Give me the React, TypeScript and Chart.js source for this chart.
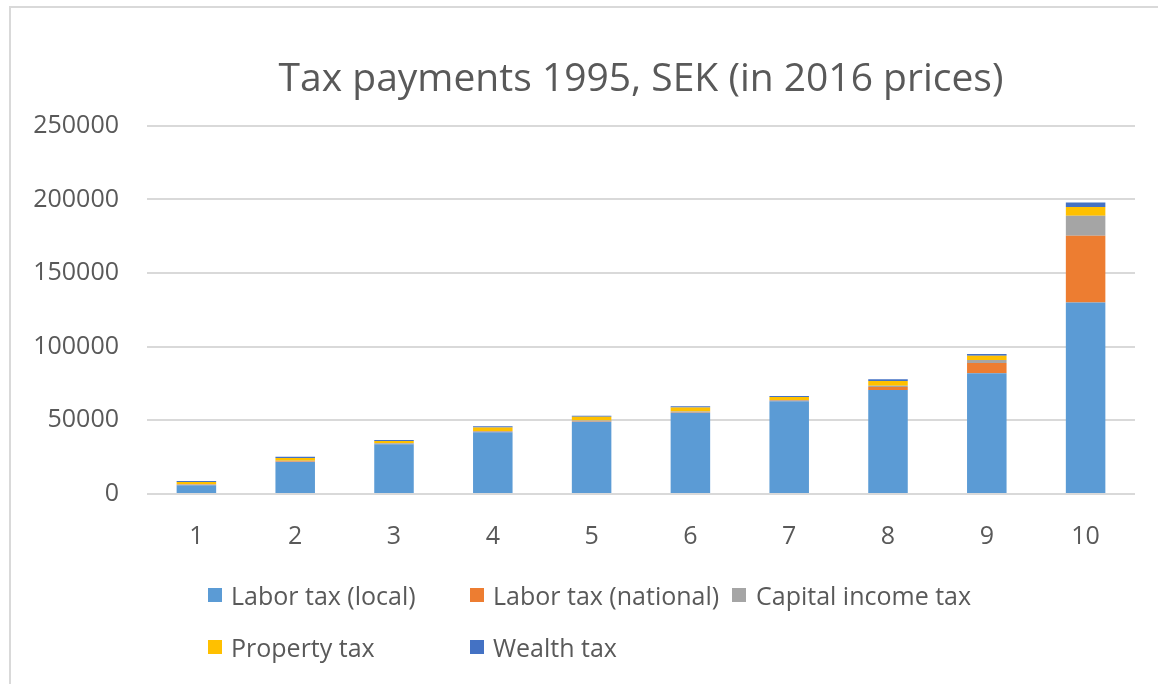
import { useEffect, useRef } from "react";
import { Chart, registerables } from "chart.js";

Chart.register(...registerables);

const titleText = "Tax payments 1995, SEK (in 2016 prices)";
const categories = ["1", "2", "3", "4", "5", "6", "7", "8", "9", "10"];
const laborLocal = [5900, 21700, 33800, 41900, 49100, 55200, 63000, 70600, 82000, 130000];
const laborNational = [300, 300, 200, 300, 300, 300, 300, 2000, 7000, 45300];
const capitalIncome = [500, 500, 400, 600, 500, 600, 500, 900, 2000, 13600];
const propertyTax = [1400, 2000, 1600, 2400, 2500, 2700, 2000, 3200, 2900, 5900];
const wealthTax = [700, 800, 700, 800, 800, 800, 800, 1200, 1100, 3100];
const seriesNames = [
  "Labor tax (local)",
  "Labor tax (national)",
  "Capital income tax",
  "Property tax",
  "Wealth tax",
];
const seriesColors = ["#5B9BD5", "#ED7D31", "#A5A5A5", "#FFC000", "#4472C4"];
const yMin = 0;
const yMax = 250000;
const yStep = 50000;

const FONT = "'Open Sans', 'DejaVu Sans', sans-serif";
const TEXT = "#595959";

// legend grid placement (row, column)
const legendCells = [
  { left: 208, textLeft: 231, top: 580 },
  { left: 470, textLeft: 493, top: 580 },
  { left: 732, textLeft: 756, top: 580 },
  { left: 208, textLeft: 231, top: 632 },
  { left: 470, textLeft: 493, top: 632 },
];

export default function App() {
  const ref = useRef<HTMLCanvasElement>(null);

  useEffect(() => {
    const allSeries = [laborLocal, laborNational, capitalIncome, propertyTax, wealthTax];
    const chart = new Chart(ref.current as HTMLCanvasElement, {
      type: "bar",
      data: {
        labels: categories,
        datasets: allSeries.map((d, i) => ({
          label: seriesNames[i],
          data: d,
          backgroundColor: seriesColors[i],
          borderWidth: 0,
          barPercentage: 0.4,
          categoryPercentage: 1,
        })),
      },
      options: {
        responsive: false,
        animation: false,
        devicePixelRatio: 1,
        layout: { padding: { left: 0, right: 23, top: 0, bottom: 130 } },
        plugins: {
          legend: { display: false },
          tooltip: { enabled: false },
          title: {
            display: true,
            fullSize: false,
            text: titleText,
            color: TEXT,
            font: { family: FONT, size: 39, weight: "normal" },
            padding: { top: 56, bottom: 23 },
          },
        },
        scales: {
          x: {
            stacked: true,
            grid: { display: false },
            border: { display: false },
            ticks: { color: TEXT, padding: 20, font: { family: FONT, size: 25 } },
            afterFit: (s: any) => {
              s.height = 60;
            },
          },
          y: {
            stacked: true,
            min: yMin,
            max: yMax,
            grid: { color: "#d9d9d9", lineWidth: 2, drawTicks: false },
            border: { display: false },
            ticks: {
              stepSize: yStep,
              color: TEXT,
              padding: 28,
              font: { family: FONT, size: 25 },
              callback: (v: any) => String(v),
            },
            afterFit: (s: any) => {
              s.width = 147;
            },
          },
        },
      },
    });
    return () => chart.destroy();
  }, []);

  return (
    <div
      style={{
        position: "absolute",
        left: 0,
        top: 0,
        width: 1158,
        height: 684,
        overflow: "hidden",
        background: "#fff",
      }}
    >
      <canvas
        ref={ref}
        width={1158}
        height={684}
        style={{ position: "absolute", left: 0, top: 0, width: 1158, height: 684 }}
      />
      <div
        style={{
          position: "absolute",
          left: 9,
          top: 6,
          width: 1300,
          height: 800,
          borderLeft: "2px solid #d9d9d9",
          borderTop: "2px solid #d9d9d9",
          pointerEvents: "none",
        }}
      />
      {seriesNames.map((name, i) => (
        <div key={name}>
          <div
            style={{
              position: "absolute",
              left: legendCells[i].left,
              top: legendCells[i].top + 8,
              width: 14,
              height: 14,
              background: seriesColors[i],
            }}
          />
          <div
            style={{
              position: "absolute",
              left: legendCells[i].textLeft,
              top: legendCells[i].top,
              height: 30,
              lineHeight: "30px",
              fontFamily: FONT,
              fontSize: 25,
              color: TEXT,
              whiteSpace: "nowrap",
            }}
          >
            {name}
          </div>
        </div>
      ))}
    </div>
  );
}
